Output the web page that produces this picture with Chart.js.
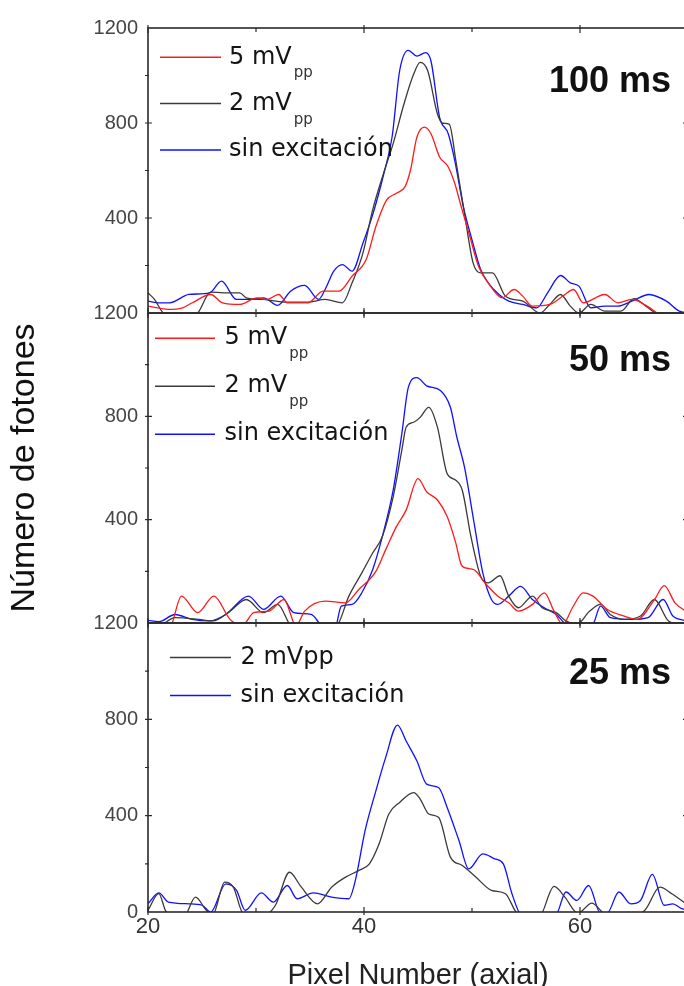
<!DOCTYPE html>
<html>
<head>
<meta charset="utf-8">
<script src="https://cdn.jsdelivr.net/npm/chart.js@4.4.0/dist/chart.umd.min.js"></script>
<style>
  html, body { margin: 0; padding: 0; background: #fff; overflow: hidden; width: 684px; height: 986px; }
  canvas { position: absolute; left: 0; }
  #topChart { top: 0; }
  #midChart { top: 290px; }
  #botChart { top: 600px; }
</style>
</head>
<body>
<canvas id="topChart" width="690" height="330"></canvas>
<canvas id="midChart" width="690" height="350"></canvas>
<canvas id="botChart" width="690" height="390"></canvas>
<script>
// Axis ticks
const xTicks = [20, 40, 60];
const xMinor = [30, 50];
const yTicks = [0, 400, 800, 1200];
const yMinor = [200, 600, 1000];

// 100 ms panel
const topRedX = [20, 21.9, 23.2, 24.1, 25.8, 26.9, 28.5, 30.1, 31, 32.1, 32.9, 34.8, 36.2, 37.7, 38.9, 40.2, 41.1, 42.1, 43, 43.8, 44.3, 44.9, 45.6, 46.2, 47, 47.8, 48.4, 49, 49.8, 50.6, 51.5, 52.8, 53.9, 54.7, 55.6, 57.2, 58.5, 59.4, 60.3, 62.3, 63.5, 64.8, 66.1, 67.3, 68.5, 70];
const topRedY = [29, 15, 22, 43, 78, 43, 36, 64, 57, 78, 43, 43, 92, 92, 155, 225, 364, 476, 504, 532, 601, 741, 783, 755, 657, 615, 546, 448, 322, 197, 127, 64, 99, 71, 29, 36, 74, 99, 43, 78, 43, 57, 32, -5, -30, -30];
const topBlackX = [20, 20.6, 21.4, 22.5, 24.6, 25.8, 27, 28.5, 29.1, 30.7, 32.6, 34.8, 36.4, 38, 38.9, 39.9, 40.8, 41.8, 42.7, 43.7, 44.6, 45.2, 45.9, 46.8, 47.3, 47.9, 48.5, 49.3, 50.1, 50.8, 51.9, 53.1, 54.7, 56.3, 57.2, 58.2, 59.1, 59.9, 61, 62.3, 63.8, 65, 66.1, 67, 68.5, 70];
const topBlackY = [85, 57, 0, -30, 0, 88, 85, 85, 64, 57, 46, 46, 57, 43, 127, 252, 434, 587, 713, 880, 1006, 1055, 1020, 838, 799, 794, 643, 420, 211, 169, 169, 71, 50, 0, 36, 78, 29, 0, 36, 8, 8, 60, 29, 0, -20, -20];
const topBlueX = [20, 21, 22, 23.8, 25.7, 26.8, 28.2, 29.5, 30.7, 32, 33.2, 34.5, 35.8, 36.4, 37.2, 38, 38.9, 39.9, 40.8, 41.8, 42.6, 43.3, 44.1, 44.9, 45.7, 46.2, 47, 47.8, 48.4, 49.2, 50, 50.8, 51.5, 52.5, 53.4, 54.7, 56, 57, 58.2, 59.1, 59.9, 61, 62.3, 63.5, 64.8, 66.4, 68, 69.2, 70];
const topBlueY = [50, 43, 43, 78, 85, 134, 57, 57, 64, 32, 92, 116, 57, 99, 176, 204, 176, 294, 413, 580, 741, 1020, 1106, 1082, 1096, 1061, 824, 755, 643, 448, 308, 183, 127, 78, 50, 36, 22, 85, 158, 127, 113, 22, 29, 29, 50, 78, 50, 8, 0];

// 50 ms panel
const midRedX = [20, 22, 23.1, 24.6, 26.1, 27.6, 28.7, 29.8, 31.2, 32.6, 33.7, 34.5, 36.4, 38.3, 39.5, 41.1, 42, 43, 43.9, 45, 45.8, 46.8, 47.7, 48.5, 49, 49.4, 50.2, 51.2, 52.4, 53.4, 54.3, 55.6, 56.7, 57.6, 58.4, 59.3, 60.3, 61.2, 62.5, 64.1, 65.3, 66.9, 67.8, 68.8, 70];
const midRedY = [-30, -20, 104, 40, 104, 14, -10, 40, 46, 91, -10, 46, 85, 78, 129, 200, 283, 373, 437, 559, 508, 476, 412, 309, 226, 213, 206, 155, 104, 78, 46, 72, 117, 46, -5, 59, 117, 104, 53, 27, 14, 91, 145, 78, 40];
const midBlackX = [20, 21, 22.5, 24.7, 26, 27.6, 29.1, 30.7, 32, 33.2, 34, 36, 37.5, 38.6, 39.8, 40.8, 41.7, 42.7, 43.5, 43.9, 44.6, 45.2, 46, 46.8, 47.7, 48.5, 49.1, 49.9, 50.8, 51.5, 52.6, 53.4, 54.3, 55.6, 56.5, 57.8, 58.7, 59.7, 60.9, 61.9, 62.8, 64.1, 65.6, 66.9, 68.2, 70];
const midBlackY = [-10, -10, 21, 14, 8, 46, 91, 40, 72, -10, -30, -30, -10, 104, 194, 271, 335, 488, 668, 758, 777, 796, 835, 758, 578, 553, 514, 335, 181, 155, 183, 104, 59, 104, 59, 40, 8, -5, 46, 72, 33, 14, 27, 91, 8, -10];
const midBlueX = [20, 21, 22.5, 24.1, 25.7, 27.2, 29.3, 30.7, 32.3, 33.5, 35.1, 36.1, 37.3, 37.9, 38.9, 39.8, 40.8, 41.7, 42.7, 43.5, 44.1, 44.9, 45.8, 47.1, 48, 48.6, 49.3, 50.2, 51, 51.8, 52.4, 53.4, 54.5, 55.6, 56.7, 57.8, 58.7, 60, 61.2, 61.9, 62.8, 64.7, 66.3, 67.7, 68.6, 70];
const midBlueY = [10, 5, 33, 14, 8, 33, 104, 53, 104, 40, 33, -10, -20, 65, 72, 117, 206, 335, 514, 732, 911, 950, 918, 899, 835, 719, 604, 386, 194, 91, 72, 104, 142, 91, 59, 33, -5, -20, -5, 65, 21, 14, 21, 91, 27, 8];

// 25 ms panel
const botBlackX = [20, 21, 21.7, 23.3, 24.4, 25.4, 26, 27.1, 27.9, 28.8, 30.5, 31.8, 33.1, 34.2, 35.7, 37, 38.3, 39.5, 40.5, 41.4, 42.3, 43.3, 44.6, 45.2, 46, 46.9, 48, 49.1, 50.2, 51.8, 53.1, 54.2, 56.2, 57.6, 58.6, 59.8, 61.1, 62.2, 64, 66, 67.4, 68.5, 70];
const botBlackY = [7, 76, 0, -20, 62, 7, -10, 124, 103, -5, -20, 28, 165, 103, 34, 103, 145, 172, 200, 283, 407, 455, 496, 469, 407, 393, 228, 193, 152, 90, 76, -5, -20, 106, 62, -5, 37, -5, -20, 7, 103, 76, 28];
const botBlueX = [20, 21, 21.9, 23.8, 25, 25.8, 27.2, 28.2, 29, 30.5, 31.6, 32.9, 33.8, 35.3, 37, 38.6, 39.2, 40.1, 41.1, 42, 43.1, 43.9, 44.9, 45.8, 46.9, 47.7, 48.8, 49.7, 51, 52.1, 52.9, 53.7, 54.5, 56, 57.8, 58.7, 59.7, 60.8, 61.9, 62.5, 63.6, 64.7, 65.6, 66.7, 67.8, 68.6, 69.4, 70];
const botBlueY = [34, 79, 41, 34, 28, 0, 117, 90, 7, 79, 41, 110, 55, 79, 62, 55, 131, 338, 503, 641, 776, 710, 627, 531, 517, 434, 296, 179, 241, 221, 200, 76, -10, -30, -10, 83, 48, 110, -5, -5, 83, 34, 48, 156, 28, 34, 14, 10];

const RED = '#ff1a1a', BLACK = '#3a3a3a', BLUE = '#1010ff';
const SANS = '"Liberation Sans", Arial, sans-serif';

function series(label, sub, color, xs, ys) {
    return {
        label: label,
        sub: sub,
        borderColor: color,
        borderWidth: 1.3,
        pointRadius: 0,
        cubicInterpolationMode: 'monotone',
        data: xs.map((x, i) => ({ x: x, y: ys[i] }))
    };
}

// frame + inward tick marks on all four sides
const framePlugin = {
    id: 'frame',
    afterDatasetsDraw(chart) {
        const { ctx, chartArea: a, scales: { x, y } } = chart;
        ctx.save();
        ctx.strokeStyle = '#2a2a2a';
        ctx.lineWidth = 1.6;
        ctx.strokeRect(a.left, a.top, a.right - a.left, a.bottom - a.top);
        ctx.lineWidth = 1.2;
        ctx.beginPath();
        xTicks.forEach(v => {
            const px = x.getPixelForValue(v);
            ctx.moveTo(px, a.top - 3); ctx.lineTo(px, a.top + 5);
            ctx.moveTo(px, a.bottom + 3); ctx.lineTo(px, a.bottom - 5);
        });
        xMinor.forEach(v => {
            const px = x.getPixelForValue(v);
            ctx.moveTo(px, a.top); ctx.lineTo(px, a.top + 4);
            ctx.moveTo(px, a.bottom); ctx.lineTo(px, a.bottom - 4);
        });
        yTicks.slice(1, 3).forEach(v => {
            const py = y.getPixelForValue(v);
            ctx.moveTo(a.left - 3, py); ctx.lineTo(a.left + 4, py);
            ctx.moveTo(a.right + 3, py); ctx.lineTo(a.right - 5, py);
        });
        yMinor.forEach(v => {
            const py = y.getPixelForValue(v);
            ctx.moveTo(a.left - 3, py); ctx.lineTo(a.left + 1, py);
            ctx.moveTo(a.right, py); ctx.lineTo(a.right - 3, py);
        });
        ctx.stroke();
        ctx.restore();
    }
};

// legend with subscripts, plus the bold exposure tag
const panelTextPlugin = {
    id: 'panelText',
    afterDraw(chart, args, opts) {
        const { ctx, chartArea: a } = chart;
        ctx.save();
        chart.data.datasets.forEach((ds, i) => {
            const ly = a.top + opts.y0 + i * opts.dy;
            ctx.strokeStyle = ds.borderColor;
            ctx.lineWidth = 1.5;
            ctx.beginPath();
            ctx.moveTo(a.left + opts.x0, ly);
            ctx.lineTo(a.left + opts.x1, ly);
            ctx.stroke();
            ctx.fillStyle = '#141414';
            ctx.font = '24px "DejaVu Sans", sans-serif';
            ctx.textBaseline = 'middle';
            ctx.textAlign = 'left';
            const tx = a.left + opts.xt;
            ctx.fillText(ds.label, tx, ly);
            if (ds.sub) {
                const w = ctx.measureText(ds.label).width;
                ctx.font = '15px "DejaVu Sans", sans-serif';
                ctx.textBaseline = 'alphabetic';
                ctx.fillStyle = '#333';
                ctx.fillText(ds.sub, tx + w + 2, ly + 20);
            }
        });
        ctx.fillStyle = '#111';
        ctx.font = 'bold 36px ' + SANS;
        ctx.textAlign = 'right';
        ctx.textBaseline = 'alphabetic';
        ctx.fillText(opts.tag, a.right - 17, a.top + opts.tagY);
        ctx.restore();
    }
};

function yAxis(showZero, title) {
    return {
        min: 0,
        max: 1200,
        afterFit: s => { s.width = 148; s.paddingTop = 0; s.paddingBottom = 0; },
        afterBuildTicks: s => { s.ticks = yTicks.map(v => ({ value: v })); },
        ticks: {
            padding: 10,
            color: '#454545',
            font: { family: SANS, size: 20 },
            callback: v => (v === 0 && !showZero) ? '' : String(v)
        },
        grid: { display: false, drawTicks: false },
        border: { display: false },
        title: title ? {
            display: true,
            text: title,
            color: '#111',
            font: { family: SANS, size: 34, lineHeight: 1 },
            padding: { top: 8, bottom: 0 }
        } : { display: false }
    };
}

function xAxis(show) {
    return {
        type: 'linear',
        min: 20,
        max: 70,
        display: show,
        afterFit: s => { s.height = show ? 78 : 0; s.paddingLeft = 0; s.paddingRight = 0; },
        afterBuildTicks: s => { s.ticks = xTicks.map(v => ({ value: v })); },
        ticks: {
            padding: 2,
            color: '#333',
            font: { family: SANS, size: 22 },
            maxRotation: 0,
            callback: v => String(v)
        },
        grid: { display: false, drawTicks: false },
        border: { display: false },
        title: {
            display: show,
            text: 'Pixel Number (axial)',
            color: '#222',
            font: { family: SANS, size: 29, lineHeight: 1 },
            padding: { top: 0, bottom: 0 }
        }
    };
}

function makeChart(id, datasets, padding, yOpts, showX, textOpts) {
    return new Chart(document.getElementById(id), {
        type: 'line',
        data: { datasets: datasets },
        options: {
            responsive: false,
            animation: false,
            layout: { padding: padding },
            plugins: {
                legend: { display: false },
                tooltip: { enabled: false },
                panelText: textOpts
            },
            scales: { x: xAxis(showX), y: yOpts }
        },
        plugins: [framePlugin, panelTextPlugin]
    });
}

makeChart('topChart', [
    series('5 mV', 'pp', RED, topRedX, topRedY),
    series('2 mV', 'pp', BLACK, topBlackX, topBlackY),
    series('sin excitación', null, BLUE, topBlueX, topBlueY)
], { top: 28, bottom: 17, left: 0, right: 2 }, yAxis(false, null), false,
{ x0: 12, x1: 73, xt: 81, y0: 29.3, dy: 46.3, tag: '100 ms', tagY: 64 });

makeChart('midChart', [
    series('5 mV', 'pp', RED, midRedX, midRedY),
    series('2 mV', 'pp', BLACK, midBlackX, midBlackY),
    series('sin excitación', null, BLUE, midBlueX, midBlueY)
], { top: 23, bottom: 17, left: 0, right: 2 }, yAxis(false, 'Número de fotones'), false,
{ x0: 7, x1: 67, xt: 76.5, y0: 25.2, dy: 48, tag: '50 ms', tagY: 58 });

makeChart('botChart', [
    series('2 mVpp', null, BLACK, botBlackX, botBlackY),
    series('sin excitación', null, BLUE, botBlueX, botBlueY)
], { top: 23, bottom: 0, left: 0, right: 2 }, yAxis(true, null), true,
{ x0: 22, x1: 83, xt: 92.5, y0: 34.4, dy: 38, tag: '25 ms', tagY: 61 });
</script>
</body>
</html>
